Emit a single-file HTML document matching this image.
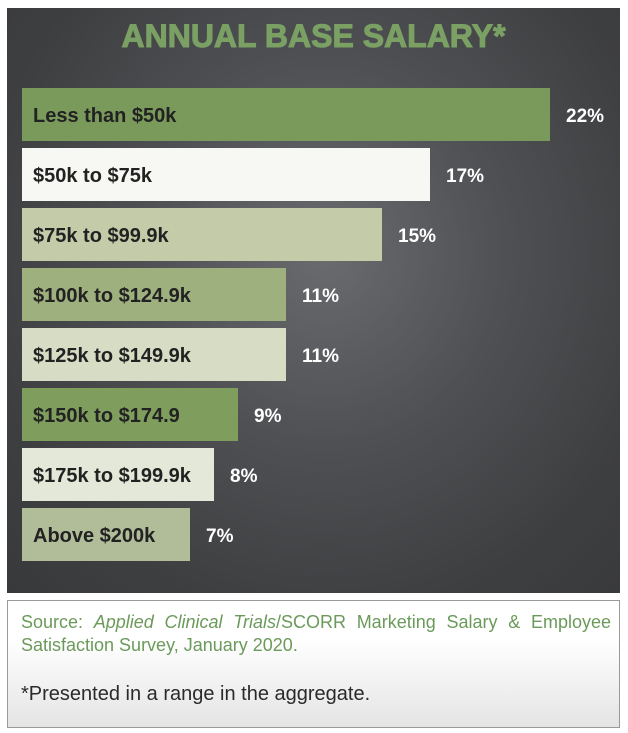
<!DOCTYPE html>
<html><head><meta charset="utf-8"><style>
html,body{margin:0;padding:0;background:#fff;width:628px;height:733px;overflow:hidden;font-family:"Liberation Sans",sans-serif}
#panel{position:absolute;left:7px;top:8px;width:613px;height:585px;background:radial-gradient(ellipse at 52% 42%,#6a6b6e 0%,#4f5053 40%,#3e3f41 75%,#38393b 100%)}
#title{position:absolute;left:0;top:10px;width:613px;text-align:center;color:#7aa064;font-weight:bold;font-size:32px;font-family:"Liberation Sans",sans-serif;-webkit-text-stroke:1px #7aa064}
#foot{position:absolute;left:7px;top:600px;width:611px;height:126px;border:1px solid #999;background:linear-gradient(#fff 30%,#e4e4e4 100%)}
.src{position:absolute;left:13px;top:10px;width:590px;color:#6b9a5a;font-size:18px;line-height:23px;text-align:justify}
.note{position:absolute;left:13px;top:82px;color:#2a2a2a;font-size:20px}
</style></head><body>
<div id="panel">
<div id="title">ANNUAL BASE SALARY*</div>
<svg id="chart" width="613" height="585" style="position:absolute;left:0;top:0"></svg>
</div>
<div id="foot">
<div class="src">Source: <i>Applied Clinical Trials</i>/SCORR Marketing Salary &amp; Employee Satisfaction Survey, January 2020.</div>
<div class="note">*Presented in a range in the aggregate.</div>
</div>
<script>
const categories=["Less than $50k","$50k to $75k","$75k to $99.9k","$100k to $124.9k","$125k to $149.9k","$150k to $174.9","$175k to $199.9k","Above $200k"];
const values=[22,17,15,11,11,9,8,7];
const colors=["#7a9a5c","#f7f8f3","#c4cba8","#9fb07f","#d7dcc4","#7f9e5e","#e3e8d8","#b0bd98"];
const svg=document.getElementById('chart');
const NS="http://www.w3.org/2000/svg";
const x0=15,pxPer=24,y0=80,step=60,bh=53;
function xs(v){return v*pxPer;}
function ys(i){return y0+i*step;}
categories.forEach((c,i)=>{
 const r=document.createElementNS(NS,'rect');
 r.setAttribute('x',x0);r.setAttribute('y',ys(i));r.setAttribute('width',xs(values[i]));r.setAttribute('height',bh);r.setAttribute('fill',colors[i]);
 
 
 svg.appendChild(r);
 const t=document.createElementNS(NS,'text');
 t.setAttribute('x',x0+11);t.setAttribute('y',ys(i)+34);t.setAttribute('font-size','20');t.setAttribute('font-weight','bold');t.setAttribute('fill','#222');t.setAttribute('font-family','"Liberation Sans",sans-serif');
 t.textContent=c;
 
 
 svg.appendChild(t);
 const v=document.createElementNS(NS,'text');
 v.setAttribute('x',x0+xs(values[i])+16);v.setAttribute('y',ys(i)+34);v.setAttribute('font-size','19');v.setAttribute('font-weight','bold');v.setAttribute('fill','#fff');v.setAttribute('font-family','"Liberation Sans",sans-serif');
 v.textContent=values[i]+'%';
 
 
 svg.appendChild(v);
});
</script>
</body></html>
